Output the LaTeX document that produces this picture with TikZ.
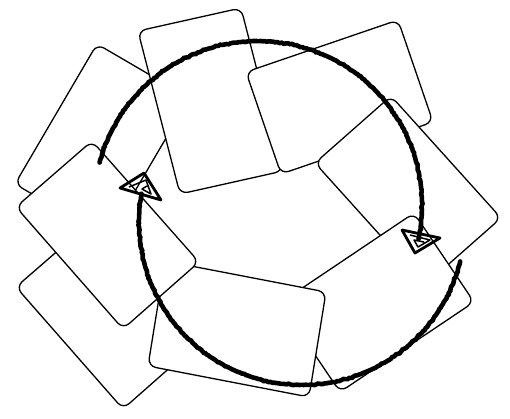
\documentclass[tikz,border=0pt]{standalone}
\usetikzlibrary{decorations.pathmorphing}
\begin{document}
\begin{tikzpicture}[x=1pt,y=-1pt,
  card/.style={draw=black, fill=white, line width=1.3pt, rounded corners=8pt, line join=round},
  loopline/.style={draw=black, line width=4.6pt, line cap=round, decorate,
    decoration={random steps, segment length=2pt, amplitude=0.7pt}},
  head/.style={draw=black, line width=2.8pt, line join=round},
  scrib/.style={draw=black, line width=1.5pt, line join=round}]
\useasboundingbox (0,0) rectangle (510,418);
\pgfmathsetseed{7}
% cards, back to front
\path[card] (97,44) -- (189.5,98) -- (107.5,238) -- (15,184) -- cycle;   % A
\path[card] (138,31) -- (241,8) -- (283,171) -- (180,194) -- cycle;      % B
\path[card] (246,72) -- (398,20) -- (433,122) -- (281,174) -- cycle;     % C
\path[card] (391,96) -- (501,218) -- (425,285) -- (315,163) -- cycle;    % D
\path[card] (414,213) -- (474,302) -- (340,392) -- (280,303) -- cycle;   % E
\path[card] (92,221) -- (199,342) -- (123,409) -- (16,287) -- cycle;     % H
\path[card] (165,261) -- (326,292) -- (309,397) -- (148,366) -- cycle;   % I
\path[card] (92,141) -- (199,262) -- (123,329) -- (16,207) -- cycle;     % G
% cycle arcs
\path[loopline] plot[domain=-165:12, samples=120] ({258+164*cos(\x)},{205+164*sin(\x)});
\path[loopline] plot[domain=14:190, samples=120] ({302+163*cos(\x)},{222+163*sin(\x)});
% arrowheads
\path[head] (402,230) -- (440,238) -- (415,253) -- cycle;
\path[scrib] (410,235) -- (430,240) -- (418,247) -- (414,240) -- (424,242);
\path[head] (120,188) -- (144,173) -- (161,200) -- cycle;
\path[scrib] (129,187) -- (146,180) -- (151,194) -- (142,189) -- (147,186);
\end{tikzpicture}
\end{document}
